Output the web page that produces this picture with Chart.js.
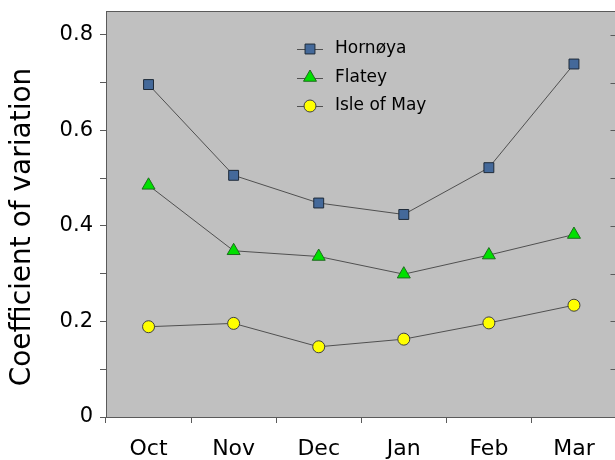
<!DOCTYPE html>
<html>
<head>
<meta charset="utf-8">
<script src="https://cdn.jsdelivr.net/npm/chart.js@4.4.1/dist/chart.umd.min.js"></script>
<style>
  html, body { margin: 0; padding: 0; background: #fff; overflow: hidden; }
  #cv { display: block; }
</style>
</head>
<body>
<canvas id="cv" width="625" height="460"></canvas>
<script>
const months = ['Oct', 'Nov', 'Dec', 'Jan', 'Feb', 'Mar'];
const hornoya = [0.696, 0.506, 0.448, 0.424, 0.522, 0.739];
const flatey = [0.485, 0.348, 0.336, 0.299, 0.339, 0.382];
const isleOfMay = [0.189, 0.196, 0.147, 0.163, 0.197, 0.234];
const yLabels = [0, 0.2, 0.4, 0.6, 0.8];
const seriesNames = ['Hornøya', 'Flatey', 'Isle of May'];
const yTitle = 'Coefficient of variation';

const FONT = "'DejaVu Sans', sans-serif";
const axisColor = '#5a5a5a';

function makeSet(label, data, style, fill, edge, radius) {
    return {
        label: label,
        data: data,
        borderColor: '#505050',
        borderWidth: 1,
        pointStyle: style,
        pointRadius: radius,
        pointHoverRadius: radius,
        pointBackgroundColor: fill,
        pointBorderColor: edge,
        pointBorderWidth: 1,
        tension: 0,
        fill: false
    };
}

// gray plot area, top/right frame, inward ticks on the right, axis title
const plotFrame = {
    id: 'plotFrame',
    beforeDraw(chart) {
        const { ctx, chartArea: a } = chart;
        ctx.save();
        ctx.fillStyle = '#c0c0c0';
        ctx.fillRect(a.left, a.top, a.right - a.left, a.bottom - a.top);
        ctx.restore();
    },
    afterDatasetsDraw(chart) {
        const { ctx, chartArea: a, scales } = chart;
        ctx.save();
        ctx.strokeStyle = axisColor;
        ctx.lineWidth = 1;
        ctx.beginPath();
        ctx.moveTo(a.left, a.top + 0.5);
        ctx.lineTo(a.right, a.top + 0.5);
        ctx.moveTo(a.right - 0.5, a.top);
        ctx.lineTo(a.right - 0.5, a.bottom);
        scales.y.ticks.forEach(t => {
            if (t.value <= 0) return;
            const y = Math.round(scales.y.getPixelForValue(t.value)) + 0.5;
            ctx.moveTo(a.right - 6, y);
            ctx.lineTo(a.right, y);
        });
        ctx.stroke();

        ctx.translate(23, 227);
        ctx.rotate(-Math.PI / 2);
        ctx.fillStyle = '#000';
        ctx.font = '28px ' + FONT;
        ctx.textAlign = 'center';
        ctx.textBaseline = 'middle';
        ctx.fillText(yTitle, 0, 0);
        ctx.restore();
    }
};

// legend drawn inside the plot, line segment through the marker
const innerLegend = {
    id: 'innerLegend',
    afterDraw(chart) {
        const ctx = chart.ctx;
        const x0 = 297, rowTop = 49, rowGap = 28.5;
        ctx.save();
        chart.data.datasets.forEach((ds, i) => {
            const y = rowTop + i * rowGap;
            ctx.strokeStyle = '#505050';
            ctx.lineWidth = 1;
            ctx.beginPath();
            ctx.moveTo(x0, Math.round(y) + 0.5);
            ctx.lineTo(x0 + 26, Math.round(y) + 0.5);
            ctx.stroke();
            ctx.fillStyle = ds.pointBackgroundColor;
            ctx.strokeStyle = ds.pointBorderColor;
            Chart.helpers.drawPoint(ctx, {
                pointStyle: ds.pointStyle,
                radius: ds.pointRadius,
                borderWidth: 1,
                rotation: 0
            }, x0 + 13, y);
            ctx.fillStyle = '#000';
            ctx.font = '17px ' + FONT;
            ctx.textBaseline = 'middle';
            ctx.textAlign = 'left';
            ctx.fillText(ds.label, x0 + 38, y);
        });
        ctx.restore();
    }
};

new Chart(document.getElementById('cv'), {
    type: 'line',
    data: {
        labels: months,
        datasets: [
            makeSet(seriesNames[0], hornoya, 'rect', '#44699a', '#1e2a38', 7),
            makeSet(seriesNames[1], flatey, 'triangle', '#00e000', '#1f6a1f', 7.5),
            makeSet(seriesNames[2], isleOfMay, 'circle', '#ffff00', '#404040', 6)
        ]
    },
    options: {
        responsive: false,
        animation: false,
        events: [],
        layout: { padding: { top: 11, right: 6, left: 0, bottom: 0 } },
        plugins: {
            legend: { display: false },
            tooltip: { enabled: false }
        },
        scales: {
            x: {
                type: 'category',
                offset: true,
                afterFit(scale) {
                    scale.height = 43;
                    scale.paddingLeft = 0;
                    scale.paddingRight = 0;
                },
                grid: {
                    offset: true,
                    drawOnChartArea: false,
                    drawTicks: true,
                    tickLength: 6,
                    color: axisColor
                },
                border: { display: true, color: axisColor },
                ticks: {
                    color: '#000',
                    padding: 13,
                    maxRotation: 0,
                    font: { family: FONT, size: 22 }
                }
            },
            y: {
                min: 0,
                max: 0.85,
                afterFit(scale) {
                    scale.width = 106;
                    scale.paddingTop = 0;
                    scale.paddingBottom = 0;
                },
                grid: {
                    drawOnChartArea: false,
                    drawTicks: true,
                    tickLength: 6,
                    color: axisColor
                },
                border: { display: true, color: axisColor },
                ticks: {
                    stepSize: 0.1,
                    includeBounds: false,
                    color: '#000',
                    padding: 7,
                    font: { family: FONT, size: 21 },
                    callback: function (v) {
                        const hit = yLabels.find(l => Math.abs(l - v) < 1e-6);
                        return hit === undefined ? '' : String(hit);
                    }
                }
            }
        }
    },
    plugins: [plotFrame, innerLegend]
});
</script>
</body>
</html>
